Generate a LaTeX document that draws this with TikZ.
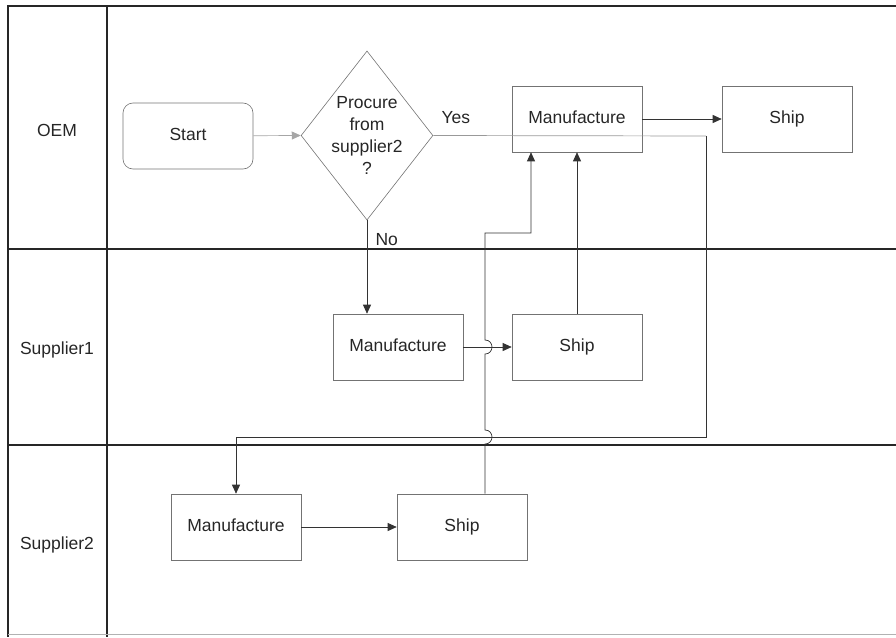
\documentclass[tikz,border=0pt]{standalone}
\usepackage{fontspec}
\setmainfont{Liberation Sans}
\usetikzlibrary{arrows.meta,shapes.geometric}
\tikzset{
  x=1pt,y=-1pt,
  every node/.style={font=\fontsize{17.5}{20}\selectfont, text=black!85},
  frame/.style={line width=1.8pt, draw=black!85},
  procbox/.style={draw=black!55, line width=0.6pt, minimum width=130pt, minimum height=66pt, inner sep=0pt, text height=12.5pt, text depth=3.5pt},
  startbox/.style={procbox, rounded corners=10pt},
  decbox/.style={diamond, draw=black!55, line width=0.6pt, minimum width=128pt, minimum height=165pt, inner sep=0pt, align=center, aspect=0.78, font=\fontsize{17.5}{22}\selectfont},
  conn/.style={draw=black!80, line width=0.7pt, -{Triangle[length=9pt,width=8pt]}},
  lightconn/.style={conn, draw=black!35},
  plainline/.style={draw=black!40, line width=0.7pt},
  lane/.style={anchor=center}
}
\begin{document}
\begin{tikzpicture}
\useasboundingbox (0,0) rectangle (896,637);
% lanes frame
\draw[frame] (896,6) -- (8,6) -- (8,637);
\draw[frame] (107,6) -- (107,637);
\draw[frame] (8,249) -- (896,249);
\draw[frame] (8,445) -- (896,445);
\draw[draw=black!30, line width=1pt] (8,634) -- (896,634);
% lane labels
\node[lane] (lOEM) at (57,130) {OEM};
\node[lane] (lS1) at (57,350) {Supplier1};
\node[lane] (lS2) at (57,545) {Supplier2};
% nodes
\node[startbox] (start) at (188,136) {Start};
\node[decbox] (dec) at (367,135.5) {Procure\\from\\supplier2\\?};
\node[procbox] (oman) at (577,119) {Manufacture};
\node[procbox] (oship) at (787,119) {Ship};
\node[procbox] (s1man) at (398,347) {Manufacture};
\node[procbox] (s1ship) at (577,347) {Ship};
\node[procbox] (s2man) at (236,527) {Manufacture};
\node[procbox] (s2ship) at (462,527) {Ship};
% helper coordinates
\coordinate (yesR) at (706,136);
\coordinate (yesB) at (706,437);
\coordinate (yesL) at (236,437);
\coordinate (hop) at (485,233);
\coordinate (up2) at (531,233);
% connectors
\draw[lightconn] (start) -- (dec.west);
\draw[conn] (dec.south) -- (dec.south |- s1man.north);
\node[anchor=west] (nolab) at (372,240) {No};
\node[anchor=west] (yeslab) at (438,118) {Yes};
\draw[conn] (oman) -- (oship);
\draw[conn] (s1man) -- (s1ship);
\draw[conn] (s1ship) -- (oman);
\draw[conn] (s2man) -- (s2ship);
\draw[plainline] (dec.east) -- (yesR);
\draw[conn] (yesR) -- (yesB) -- (yesL) -- (s2man.north);
\draw[conn] (s2ship.north -| hop) -- (485,444)
  .. controls (494.3,444) and (494.3,430) .. (485,430)
  -- (485,354)
  .. controls (494.3,354) and (494.3,340) .. (485,340)
  -- (hop) -- (up2) -- (up2 |- oman.south);
\end{tikzpicture}
\end{document}
